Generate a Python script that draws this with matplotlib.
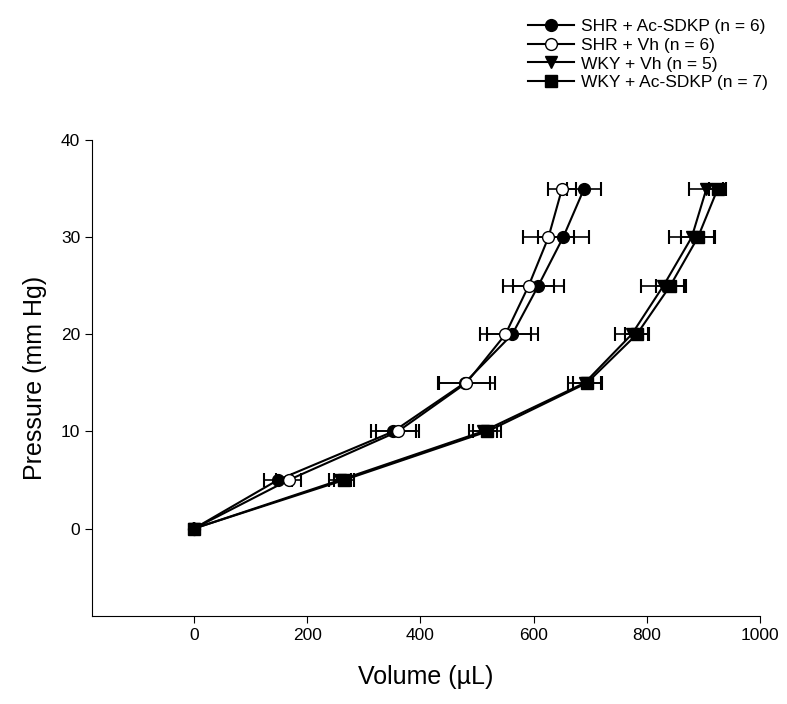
import matplotlib.pyplot as plt

plt.rcParams['font.family'] = ['Liberation Sans', 'DejaVu Sans']

pressure = [0, 5, 10, 15, 20, 25, 30, 35]

shr_ac = [0, 148, 352, 478, 562, 608, 652, 689]
shr_ac_err = [0, 25, 40, 45, 45, 45, 45, 30]
shr_vh = [0, 167, 360, 481, 550, 591, 626, 650]
shr_vh_err = [0, 22, 38, 50, 45, 45, 45, 25]
wky_vh = [0, 258, 510, 690, 773, 829, 879, 905]
wky_vh_err = [0, 20, 25, 30, 30, 40, 40, 30]
wky_ac = [0, 265, 518, 694, 782, 841, 890, 925]
wky_ac_err = [0, 18, 25, 25, 20, 25, 30, 15]

series = [
    ("SHR + Ac-SDKP (n = 6)", shr_ac, shr_ac_err, 'o', 'black'),
    ("SHR + Vh (n = 6)", shr_vh, shr_vh_err, 'o', 'white'),
    ("WKY + Vh (n = 5)", wky_vh, wky_vh_err, 'v', 'black'),
    ("WKY + Ac-SDKP (n = 7)", wky_ac, wky_ac_err, 's', 'black'),
]

fig = plt.figure(figsize=(7.87, 7.04), dpi=100)
ax = fig.add_axes([0.117, 0.125, 0.849, 0.676])

handles = []
for label, x, err, m, fc in series:
    ax.errorbar(x, pressure, xerr=err, fmt='none', ecolor='black',
                elinewidth=1.2, capsize=5, capthick=1.5, zorder=2)
    h, = ax.plot(x, pressure, marker=m, color='black', mfc=fc, mec='black',
                 ms=8.5, lw=1.5, label=label, zorder=3)
    handles.append(h)

ax.set_xlim(-180, 1000)
ax.set_ylim(-9, 40)
ax.set_xticks([0, 200, 400, 600, 800, 1000])
ax.set_yticks([0, 10, 20, 30, 40])
ax.spines['top'].set_visible(False)
ax.spines['right'].set_visible(False)
ax.tick_params(labelsize=12.5, length=5)
ax.set_xlabel("Volume (\u00b5L)", fontsize=18, labelpad=16)
ax.set_ylabel("Pressure (mm Hg)", fontsize=18, labelpad=10)

fig.legend(handles=handles, loc='upper right', bbox_to_anchor=(0.995, 0.995),
           frameon=False, fontsize=12.5, handlelength=2.6, labelspacing=0.2,
           handletextpad=0.4)

fig.savefig("out.png", dpi=100)
